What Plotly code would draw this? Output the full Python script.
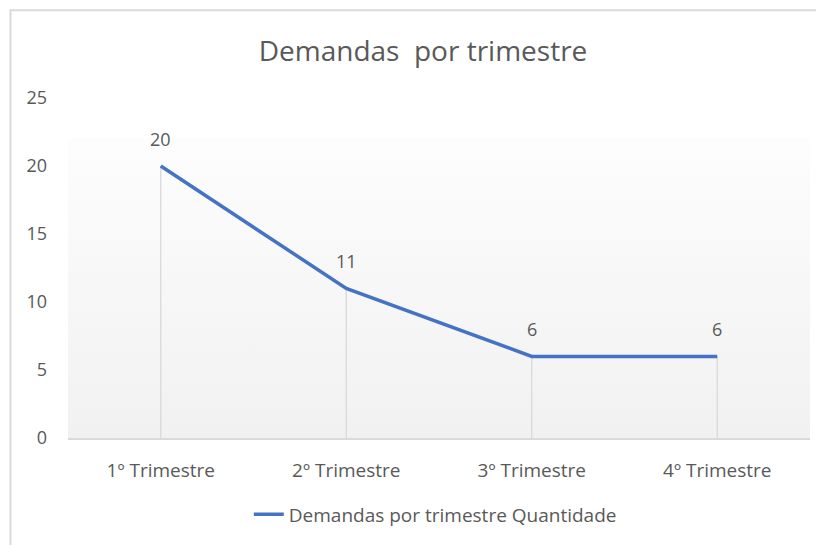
import base64
import plotly.graph_objects as go

# data
trimestres = ["1º Trimestre", "2º Trimestre", "3º Trimestre", "4º Trimestre"]
quantidade = [20, 11, 6, 6]
serie_nome = "Demandas por trimestre Quantidade"
titulo = "Demandas  por trimestre"

FONT = "Open Sans, Noto Sans, sans-serif"
GREY_TXT = "#595959"
GREY_LN = "#d9d9d9"
BLUE = "#4472C4"

# page body has an 8px margin, so the figure is drawn 8px in from the corner
OFF = 8
W, H = 824 - OFF, 545 - OFF
ML, MR, MT, MB = 60, 14, 90, 104
plot_w = W - ML - MR
plot_h = H - MT - MB


def px_to_paper_x(px):
    # px given in screen coordinates
    return (px - OFF - ML) / plot_w


def px_to_paper_y(py):
    return (H - MB - (py - OFF)) / plot_h


# soft vertical gradient for plot area background
svg = (
    '<svg xmlns="http://www.w3.org/2000/svg" width="100" height="100" preserveAspectRatio="none">'
    '<defs><linearGradient id="g" x1="0" y1="0" x2="0" y2="1">'
    '<stop offset="0" stop-color="#fdfdfd"/><stop offset="1" stop-color="#f1f1f1"/>'
    '</linearGradient></defs><rect width="100" height="100" fill="url(#g)"/></svg>'
)
bg_src = "data:image/svg+xml;base64," + base64.b64encode(svg.encode()).decode()

fig = go.Figure()

# drop lines (point down to axis)
fig.add_trace(go.Scatter(
    x=trimestres,
    y=quantidade,
    mode="markers",
    marker=dict(size=1, opacity=0),
    error_y=dict(type="data", symmetric=False, array=[0] * len(quantidade),
                 arrayminus=quantidade, color=GREY_LN, thickness=1.3, width=0),
    showlegend=False,
    hoverinfo="skip",
))

fig.add_trace(go.Scatter(
    x=trimestres,
    y=quantidade,
    mode="lines",
    name=serie_nome,
    line=dict(color=BLUE, width=3.5),
))

# data labels
for t, q in zip(trimestres, quantidade):
    fig.add_annotation(x=t, y=q, text=str(q), showarrow=False, yshift=27,
                       yanchor="middle", font=dict(family=FONT, size=18, color=GREY_TXT))

top_grad = px_to_paper_y(138)
fig.add_layout_image(dict(
    source=bg_src, xref="paper", yref="paper", x=0, y=top_grad,
    sizex=1, sizey=top_grad, xanchor="left", yanchor="top",
    sizing="stretch", layer="below",
))

# chart border (top + left)
fig.add_shape(type="line", xref="paper", yref="paper",
              x0=px_to_paper_x(10), x1=px_to_paper_x(830),
              y0=px_to_paper_y(9.5), y1=px_to_paper_y(9.5),
              line=dict(color=GREY_LN, width=2))
fig.add_shape(type="line", xref="paper", yref="paper",
              x0=px_to_paper_x(10.5), x1=px_to_paper_x(10.5),
              y0=px_to_paper_y(9), y1=px_to_paper_y(550),
              line=dict(color=GREY_LN, width=2))

fig.update_layout(
    width=W,
    height=H,
    margin=dict(l=ML, r=MR, t=MT, b=MB),
    paper_bgcolor="white",
    plot_bgcolor="white",
    font=dict(family=FONT, size=19, color=GREY_TXT),
    title=dict(text=titulo, x=(423 - OFF) / W, xanchor="center", y=1 - (51 - OFF) / H,
               yanchor="middle", font=dict(family=FONT, size=28, color=GREY_TXT)),
    showlegend=True,
    legend=dict(orientation="h", x=0.495, xanchor="center", y=px_to_paper_y(518),
                yanchor="middle", font=dict(family=FONT, size=19, color=GREY_TXT),
                bgcolor="rgba(0,0,0,0)"),
    hovermode=False,
)

fig.update_xaxes(
    type="category",
    range=[-0.5, len(trimestres) - 0.5],
    showgrid=False,
    showline=True,
    linecolor=GREY_LN,
    linewidth=1.5,
    ticks="",
    ticklabelstandoff=14,
    zeroline=False,
    fixedrange=True,
)

fig.update_yaxes(
    range=[0, 25],
    dtick=5,
    showgrid=False,
    showline=False,
    zeroline=False,
    ticks="",
    ticklabelstandoff=20,
    tickfont=dict(size=18),
    fixedrange=True,
)

fig.write_html("out.html")
